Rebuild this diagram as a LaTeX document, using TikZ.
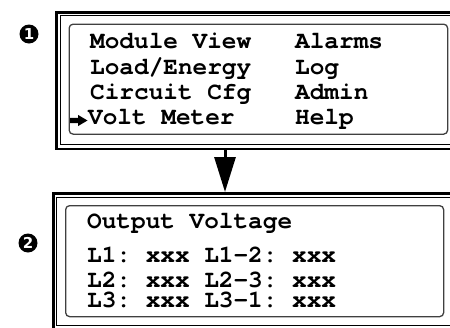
\documentclass[tikz,border=0pt]{standalone}
\usepackage{fontspec}
\setmonofont{texgyrecursor}[Extension=.otf, UprightFont=*-regular, BoldFont=*-bold]
\setsansfont{DejaVu Sans}
\usetikzlibrary{arrows.meta}
\begin{document}
\begin{tikzpicture}[x=1pt,y=-1pt,
  lcd/.style={font=\ttfamily\bfseries\fontsize{24.4}{24.4}\selectfont, anchor=base west, inner sep=0pt, text height=14pt, text depth=3pt},
  thickframe/.style={draw, line width=2.6pt, rectangle, inner sep=0pt, anchor=north west},
  thinframe/.style={draw, line width=0.8pt, rectangle, inner sep=0pt, anchor=north west},
  screen/.style={draw=black!75, line width=1.3pt, rectangle, rounded corners=4pt, inner sep=0pt, anchor=north west},
  badge/.style={circle, fill=black, inner sep=0pt, minimum size=19pt, text=white, font=\sffamily\bfseries\fontsize{15}{15}\selectfont},
  pointer/.style={fill=black, draw=none}
]
\useasboundingbox (0,0) rectangle (450,327);
\begin{scope}
\clip (0,0) rectangle (450,327);
% frame 1
\node[thickframe, minimum width=420pt, minimum height=136.5pt] (box1) at (55,11) {};
\node[thinframe, minimum width=420pt, minimum height=128.5pt] (in1) at (59.5,15) {};
\node[screen, minimum width=378.5pt, minimum height=110pt] (scr1) at (68.5,23.5) {};
% frame 2
\node[thickframe, minimum width=420pt, minimum height=150pt] (box2) at (52,192) {};
\node[thinframe, minimum width=420pt, minimum height=128.5pt] (in2) at (56,196.5) {};
\node[screen, minimum width=378pt, minimum height=111pt] (scr2) at (65,205) {};
\end{scope}
% connector
\coordinate (ax) at (225,0);
\draw[line width=3pt, -{Triangle[length=35pt,width=21pt]}] (ax |- box1.south) -- (ax |- box2.north);
% badges
\node[badge] (b1) at (29,34) {1};
\node[badge] (b2) at (28,243) {2};
% screen 1 text
\node[lcd] (m1) at (90,48.3) {Module View};
\node[lcd] (m2) at (90,74) {Load/Energy};
\node[lcd] (m3) at (90,99) {Circuit Cfg};
\node[lcd] (m4) at (88,124) {Volt Meter};
\node[lcd] (r1) at (295,48.3) {Alarms};
\node[lcd] (r2) at (295,74) {Log};
\node[lcd] (r3) at (295,99) {Admin};
\node[lcd] (r4) at (295,124) {Help};
\coordinate (p0) at (70,120.5);
\fill[pointer] (p0) ++(0,-2.6) -- ++(8,0) -- ++(0,-3) -- ++(9.5,5.6) -- ++(-9.5,5.6) -- ++(0,-3) -- ++(-8,0) -- cycle;
% screen 2 text
\node[lcd] (o0) at (87,228) {Output Voltage};
\node[lcd] (o1) at (87,262) {L1: xxx L1-2: xxx};
\node[lcd] (o2) at (87,287) {L2: xxx L2-3: xxx};
\node[lcd] (o3) at (87,307) {L3: xxx L3-1: xxx};
\end{tikzpicture}
\end{document}
